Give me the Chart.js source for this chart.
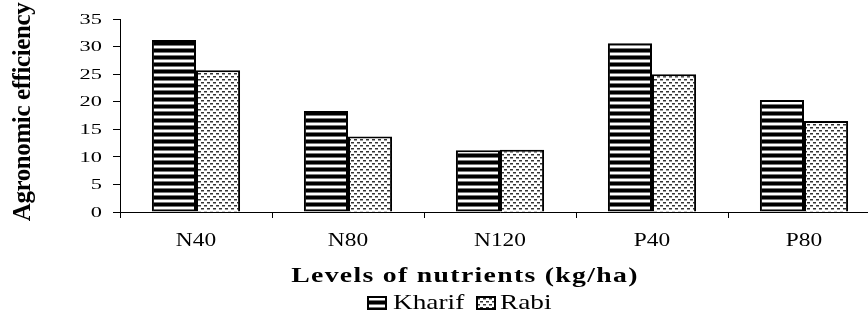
<!DOCTYPE html>
<html>
<head>
<meta charset="utf-8">
<script src="https://cdn.jsdelivr.net/npm/chart.js@4/dist/chart.umd.min.js"></script>
<style>
    html, body { margin: 0; padding: 0; background: #fff; overflow: hidden; }
    #wrap { width: 868px; height: 315px; overflow: hidden; }
    canvas { display: block; }
</style>
</head>
<body>
<div id="wrap"><canvas id="chart-ae" width="900" height="315"></canvas></div>
<script>
const nutrientLevels = ['N40', 'N80', 'N120', 'P40', 'P80'];
const kharifValues = [31.2, 18.3, 11.2, 30.6, 20.3];
const rabiValues = [25.7, 13.7, 11.3, 25.0, 16.5];
const yTicks = [0, 5, 10, 15, 20, 25, 30, 35];
const yTitle = 'Agronomic efficiency';
const xTitle = 'Levels of nutrients (kg/ha)';

function stripePattern() {
    const c = document.createElement('canvas');
    c.width = 8; c.height = 7;
    const g = c.getContext('2d');
    g.fillStyle = '#fff'; g.fillRect(0, 0, 8, 7);
    g.fillStyle = '#000'; g.fillRect(0, 0, 8, 3);
    g.fillStyle = '#777'; g.fillRect(0, 3, 8, 1); g.fillRect(0, 6, 8, 1);
    return g.createPattern(c, 'repeat');
}

function dotPattern() {
    const c = document.createElement('canvas');
    c.width = 6; c.height = 6;
    const g = c.getContext('2d');
    g.fillStyle = '#fff'; g.fillRect(0, 0, 6, 6);
    g.fillStyle = '#333'; g.fillRect(0, 1, 3, 1); g.fillRect(3, 4, 3, 1);
    g.fillStyle = '#999'; g.fillRect(0, 2, 3, 1); g.fillRect(3, 5, 3, 1);
    return g.createPattern(c, 'repeat');
}

const kharifFill = stripePattern();
const rabiFill = dotPattern();

function stretchedText(ctx, text, x, y, font, sx, align, baseline) {
    ctx.save();
    ctx.translate(x, y);
    ctx.scale(sx, 1);
    ctx.font = font;
    ctx.fillStyle = '#000';
    ctx.textAlign = align;
    ctx.textBaseline = baseline;
    ctx.fillText(text, 0, 0);
    ctx.restore();
}

const textPlugin = {
    id: 'textPlugin',
    afterDraw(chart) {
        const ctx = chart.ctx;
        const ys = chart.scales.y, xs = chart.scales.x;

        ys.ticks.forEach(t => {
            stretchedText(ctx, String(t.value), 102, ys.getPixelForValue(t.value) + 1,
                '14px "Liberation Serif"', 1.6, 'right', 'middle');
        });

        chart.data.labels.forEach((lab, i) => {
            stretchedText(ctx, lab, xs.getPixelForValue(i), 241,
                '18px "Liberation Serif"', 1.3, 'center', 'middle');
        });

        ctx.save();
        ctx.letterSpacing = '1px';
        stretchedText(ctx, xTitle, 465, 282, 'bold 21px "Liberation Serif"', 1.32, 'center', 'alphabetic');
        ctx.restore();

        ctx.save();
        ctx.translate(24, 112);
        ctx.rotate(-Math.PI / 2);
        ctx.letterSpacing = '-0.4px';
        ctx.font = 'bold 25px "Liberation Serif"';
        ctx.fillStyle = '#000';
        ctx.textAlign = 'center';
        ctx.textBaseline = 'middle';
        ctx.fillText(yTitle, 0, 0);
        ctx.restore();

        // legend
        const items = [
            { ds: chart.data.datasets[0], box: 368, text: 393 },
            { ds: chart.data.datasets[1], box: 477, text: 500 }
        ];
        items.forEach(it => {
            ctx.save();
            ctx.fillStyle = it.ds.backgroundColor;
            ctx.fillRect(it.box, 297, 18, 12);
            ctx.strokeStyle = '#000';
            ctx.lineWidth = 2;
            ctx.strokeRect(it.box, 297, 18, 12);
            ctx.restore();
            stretchedText(ctx, it.ds.label, it.text, 309, '21px "Liberation Serif"', 1.3, 'left', 'alphabetic');
        });
    }
};

new Chart(document.getElementById('chart-ae'), {
    type: 'bar',
    data: {
        labels: nutrientLevels,
        datasets: [
            { label: 'Kharif', data: kharifValues, backgroundColor: kharifFill, borderColor: '#000', borderWidth: 2 },
            { label: 'Rabi', data: rabiValues, backgroundColor: rabiFill, borderColor: '#000', borderWidth: 2 }
        ]
    },
    options: {
        responsive: false,
        animation: false,
        layout: { padding: { left: 0, right: 20, top: 19, bottom: 0 } },
        datasets: { bar: { categoryPercentage: 0.58, barPercentage: 1 } },
        scales: {
            x: {
                ticks: { display: false },
                grid: { drawOnChartArea: false, drawTicks: true, tickLength: 6, color: '#000', offset: true },
                border: { display: true, color: '#000', width: 1 },
                afterFit(scale) { scale.height = 103; }
            },
            y: {
                min: 0, max: 35,
                afterBuildTicks(scale) { scale.ticks = yTicks.map(v => ({ value: v })); },
                ticks: { display: false },
                grid: { drawOnChartArea: false, drawTicks: true, tickLength: 7, color: '#000' },
                border: { display: true, color: '#000', width: 1 },
                afterFit(scale) { scale.width = 120; }
            }
        },
        plugins: {
            legend: { display: false },
            tooltip: { enabled: false }
        }
    },
    plugins: [textPlugin]
});
</script>
</body>
</html>
